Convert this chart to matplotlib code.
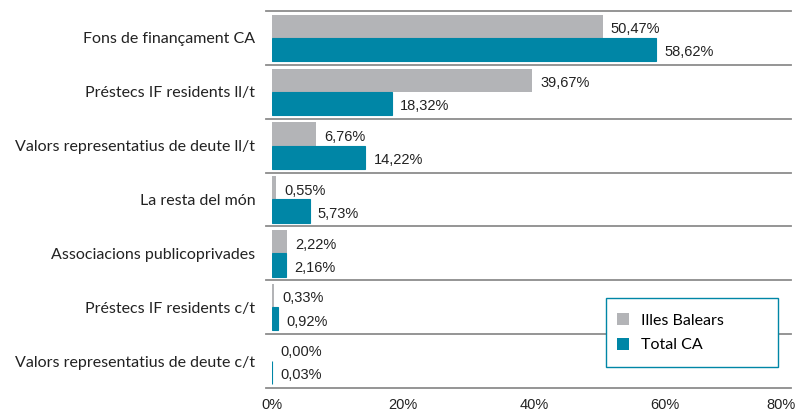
import matplotlib
matplotlib.use("Agg")
import matplotlib.pyplot as plt
import matplotlib.transforms as mtransforms
from matplotlib.patches import Patch, Rectangle

categories = [
    "Fons de finançament CA",
    "Préstecs IF residents ll/t",
    "Valors representatius de deute ll/t",
    "La resta del món",
    "Associacions publicoprivades",
    "Préstecs IF residents c/t",
    "Valors representatius de deute c/t",
]
illes_balears = [50.47, 39.67, 6.76, 0.55, 2.22, 0.33, 0.00]
total_ca = [58.62, 18.32, 14.22, 5.73, 2.16, 0.92, 0.03]
xticks = [0, 20, 40, 60, 80]

GRAY = "#b3b4b7"
TEAL = "#0086a6"
LINE = "#8c8c8c"
CAT_FONT = ["Lato", "DejaVu Sans"]
NUM_FONT = ["Liberation Sans", "DejaVu Sans"]

fig = plt.figure(figsize=(8.03, 4.16), dpi=100)
ax = fig.add_axes([0.3387, 0.0673, 0.6526, 0.9063])

h = 0.43
pos = list(range(len(categories)))
ax.barh([p - h / 2 for p in pos], illes_balears, height=h, color=GRAY, linewidth=0)
ax.barh([p + h / 2 for p in pos], total_ca, height=h, color=TEAL,
        edgecolor=TEAL, linewidth=0.8)

for p, a, b in zip(pos, illes_balears, total_ca):
    ax.annotate(f"{a:.2f}%".replace(".", ","), (a, p - h / 2), xytext=(6, -2),
                textcoords="offset points", va="center", ha="left",
                fontsize=10.5, family=NUM_FONT, color="#222222")
    ax.annotate(f"{b:.2f}%".replace(".", ","), (b, p + h / 2), xytext=(6, -2),
                textcoords="offset points", va="center", ha="left",
                fontsize=10.5, family=NUM_FONT, color="#222222")

# separator lines between category bands
for y in [p - 0.5 for p in pos] + [pos[-1] + 0.5]:
    ax.plot([-0.012, 0.99], [y, y], transform=ax.get_yaxis_transform(),
            color=LINE, linewidth=1.3, clip_on=False, zorder=0)

ax.set_xlim(0, 80)
ax.set_ylim(len(categories) - 0.5, -0.5)
ax.set_yticks(pos)
ax.set_yticklabels(categories, family=CAT_FONT, fontsize=11.5, color="#222222")
ax.set_xticks(xticks)
ax.set_xticklabels([f"{t}%" for t in xticks], family=NUM_FONT, fontsize=10.5,
                   color="#222222")
shift = mtransforms.ScaledTranslation(-4 / 72, 0, fig.dpi_scale_trans)
for lbl in ax.get_xticklabels():
    lbl.set_transform(lbl.get_transform() + shift)
ax.get_xticklabels()[-1].set_horizontalalignment("right")
ax.tick_params(axis="both", length=0)
ax.tick_params(axis="y", pad=12)
ax.tick_params(axis="x", pad=7)
for s in ax.spines.values():
    s.set_visible(False)

# legend box drawn separately so it can be wider than its entries
ax.add_patch(Rectangle((0.637, 0.0557), 0.328, 0.183, transform=ax.transAxes,
                       facecolor="white", edgecolor=TEAL, linewidth=1.0,
                       zorder=4.5, clip_on=False))
handles = [Patch(facecolor=GRAY, edgecolor="none", label="Illes Balears"),
           Patch(facecolor=TEAL, edgecolor="none", label="Total CA")]
ax.legend(handles=handles, loc="upper left", bbox_to_anchor=(0.637, 0.228),
          frameon=False, handlelength=0.75, handleheight=0.75,
          handletextpad=0.75, borderpad=0.7, borderaxespad=0,
          labelspacing=0.65, prop={"family": CAT_FONT, "size": 11.5})

fig.savefig("out.png", dpi=100)
